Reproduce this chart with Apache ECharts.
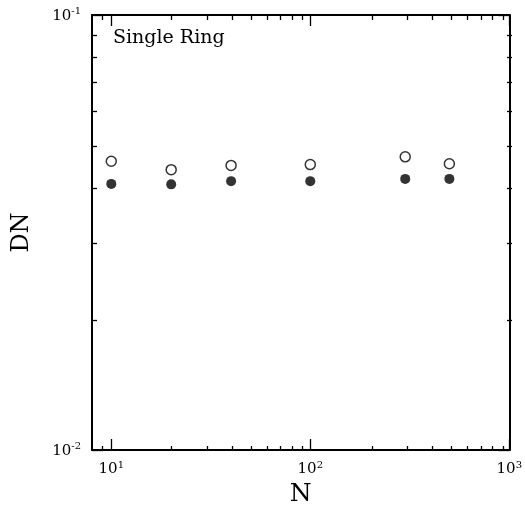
<!DOCTYPE html>
<html><head><meta charset="utf-8">
<script src="https://cdn.jsdelivr.net/npm/echarts@6/dist/echarts.min.js"></script>
<style>html,body{margin:0;padding:0;background:#fff}#c{width:525px;height:512px}</style>
</head><body><div id="c"></div>
<script>
const nValues = [10, 20, 40, 100, 300, 500];
const dnOpen = [0.0461, 0.0441, 0.0451, 0.0453, 0.0472, 0.0455];
const dnFilled = [0.0409, 0.0408, 0.0415, 0.0415, 0.0420, 0.0420];
const xMajor = [10, 100, 1000];
const xMinor = [9, 20, 30, 40, 50, 60, 70, 80, 90, 200, 300, 400, 500, 600, 700, 800, 900];
const yMajor = [0.01, 0.1];
const yMinor = [0.02, 0.03, 0.04, 0.05, 0.06, 0.07, 0.08, 0.09];
const xTickText = {10: ['10', '1'], 100: ['10', '2'], 1000: ['10', '3']};
const yTickText = {0.01: ['10', '-2'], 0.1: ['10', '-1']};

const FONT = 'DejaVu Serif';
const rich = {
  b: {fontFamily: FONT, fontSize: 15, color: '#000', verticalAlign: 'bottom', lineHeight: 17},
  s: {fontFamily: FONT, fontSize: 10, color: '#000', verticalAlign: 'top', lineHeight: 17, padding: [0, 0, 7, 0]}
};
const lineStyle = {color: '#000', width: 2};
function fmt(table) {
  return function (v) {
    let key = Object.keys(table).find(k => Math.abs(+k - v) / v < 1e-6);
    if (!key) return '';
    return '{b|' + table[key][0] + '}{s|' + table[key][1] + '}';
  };
}
function xAxis(grid, pos, showLine, showLabel, ticks, len) {
  return {
    gridIndex: grid, type: 'log', logBase: 10, min: 8, max: 1000, position: pos,
    axisLine: {show: showLine, lineStyle: lineStyle, onZero: false},
    axisTick: {show: true, inside: true, length: len, customValues: ticks, lineStyle: {color: '#000', width: 1.3}},
    axisLabel: {show: showLabel, customValues: xMajor, formatter: fmt(xTickText), rich: rich, margin: 10},
    splitLine: {show: false}, minorTick: {show: false}
  };
}
function yAxis(grid, pos, showLine, showLabel, ticks, len) {
  return {
    gridIndex: grid, type: 'log', logBase: 10, min: 0.01, max: 0.1, position: pos,
    axisLine: {show: showLine, lineStyle: lineStyle, onZero: false},
    axisTick: {show: true, inside: true, length: len, customValues: ticks, lineStyle: {color: '#000', width: 1.3}},
    axisLabel: {show: showLabel, customValues: yMajor, formatter: fmt(yTickText), rich: rich, margin: 11},
    splitLine: {show: false}, minorTick: {show: false}
  };
}
const gridRect = {left: 92, right: 13, top: 15, bottom: 61, containLabel: false};
const chart = echarts.init(document.getElementById('c'), null, {renderer: 'canvas'});
chart.setOption({
  animation: false,
  backgroundColor: '#fff',
  grid: [Object.assign({}, gridRect), Object.assign({}, gridRect)],
  title: {text: 'Single Ring', left: 108, top: 24,
    textStyle: {fontFamily: FONT, fontSize: 19, fontWeight: 'normal', color: '#000'}},
  xAxis: [
    Object.assign(xAxis(0, 'bottom', true, true, xMajor, 11), {name: 'N', nameLocation: 'middle', nameGap: 32,
      nameTextStyle: {fontFamily: FONT, fontSize: 25, color: '#000'}}),
    xAxis(0, 'top', true, false, xMajor, 11),
    xAxis(1, 'bottom', false, false, xMinor, 5),
    xAxis(1, 'top', false, false, xMinor, 5)
  ],
  yAxis: [
    Object.assign(yAxis(0, 'left', true, true, yMajor, 11), {name: 'DN', nameLocation: 'middle', nameGap: 58,
      nameTextStyle: {fontFamily: FONT, fontSize: 24, color: '#000'}}),
    yAxis(0, 'right', true, false, yMajor, 11),
    yAxis(1, 'left', false, false, yMinor, 5),
    yAxis(1, 'right', false, false, yMinor, 5)
  ],
  series: [
    {type: 'scatter', xAxisIndex: 0, yAxisIndex: 0, symbol: 'circle', symbolSize: 10,
      itemStyle: {color: '#fff', borderColor: '#000', borderWidth: 1.5},
      data: nValues.map((n, i) => [n, dnOpen[i]])},
    {type: 'scatter', xAxisIndex: 0, yAxisIndex: 0, symbol: 'circle', symbolSize: 10,
      itemStyle: {color: '#000'},
      data: nValues.map((n, i) => [n, dnFilled[i]])}
  ]
});
</script></body></html>
